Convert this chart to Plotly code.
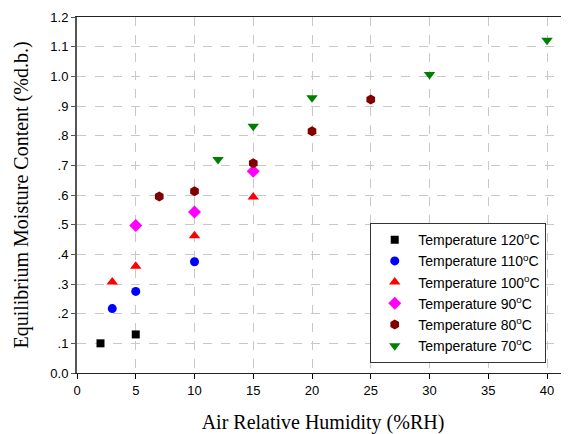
import plotly.graph_objects as go

names = ["Temperature 120<sup>o</sup>C", "Temperature 110<sup>o</sup>C", "Temperature 100<sup>o</sup>C",
         "Temperature 90<sup>o</sup>C", "Temperature 80<sup>o</sup>C", "Temperature 70<sup>o</sup>C"]

x120 = [2, 5]
y120 = [0.100, 0.130]
x110 = [3, 5, 10]
y110 = [0.217, 0.275, 0.375]
x100 = [3, 5, 10, 15]
y100 = [0.307, 0.360, 0.463, 0.593]
x90 = [5, 10, 15]
y90 = [0.497, 0.543, 0.680]
x80 = [7, 10, 15, 20, 25]
y80 = [0.595, 0.613, 0.707, 0.815, 0.922]
x70 = [12, 15, 20, 30, 40]
y70 = [0.720, 0.832, 0.928, 1.006, 1.122]

y_tickvals = [0.0, 0.1, 0.2, 0.3, 0.4, 0.5, 0.6, 0.7, 0.8, 0.9, 1.0, 1.1, 1.2]
y_ticktext = ["0.0", ".1", ".2", ".3", ".4", ".5", ".6", ".7", ".8", ".9", "1.0", "1.1", "1.2"]
x_tickvals = [0, 5, 10, 15, 20, 25, 30, 35, 40]

series = [
    (x120, y120, "square", "#000000", 8),
    (x110, y110, "circle", "#0000ff", 9),
    (x100, y100, "triangle-up", "#ff0000", 10),
    (x90, y90, "diamond", "#ff00ff", 10),
    (x80, y80, "hexagon", "#800000", 10),
    (x70, y70, "triangle-down", "#008000", 10),
]

fig = go.Figure()
for name, (xs, ys, sym, col, sz) in zip(names, series):
    fig.add_trace(go.Scatter(x=xs, y=ys, mode="markers", name=name,
                             marker=dict(symbol=sym, color=col, size=sz, line=dict(width=0))))

grid = dict(showgrid=True, gridcolor="#c8c8c8", griddash="dash", gridwidth=1, zeroline=False)

# page body has an 8px margin, so the figure is shrunk by 8px on the left/top
fig.update_layout(
    width=561, height=426,
    margin=dict(l=69, r=0, t=9, b=61),
    paper_bgcolor="white", plot_bgcolor="white",
    font=dict(family="Liberation Sans, Arial", size=13, color="#000"),
    xaxis=dict(range=[0, 41.87], tickvals=x_tickvals, ticks="outside", ticklen=5,
               tickcolor="#000", showline=True, linecolor="#222", linewidth=1, mirror=True,
               automargin=False,
               title=dict(text="Air Relative Humidity (%RH)",
                          font=dict(family="Liberation Serif, Times New Roman", size=20), standoff=19),
               **grid),
    yaxis=dict(range=[0, 1.2], tickvals=y_tickvals, ticktext=y_ticktext, ticks="outside", ticklen=4,
               tickcolor="#555", showline=True, linecolor="#555", linewidth=2, automargin=False,
               title=dict(text="Equilibrium Moisture Content (%d.b.)",
                          font=dict(family="Liberation Serif, Times New Roman", size=20), standoff=16),
               **grid),
    legend=dict(x=0.596, y=0.421, xanchor="left", yanchor="top",
                bgcolor="white", bordercolor="#333", borderwidth=1,
                font=dict(family="Liberation Sans, Arial", size=14), tracegroupgap=0,
                itemwidth=37),
    showlegend=True,
)

fig.write_html("out.html")
